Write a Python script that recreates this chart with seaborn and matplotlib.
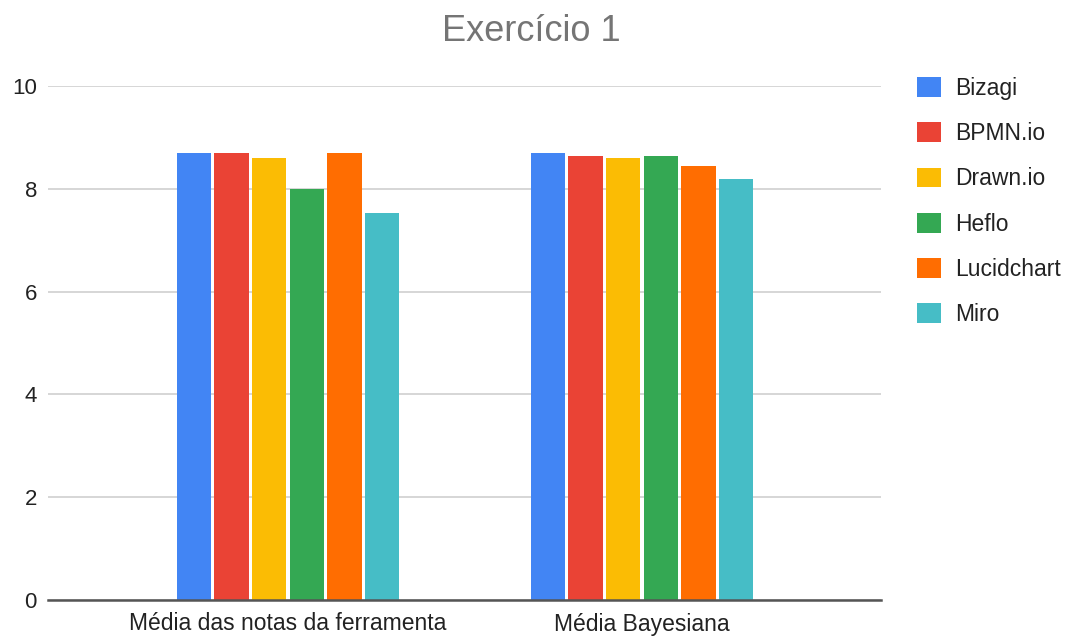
import matplotlib
matplotlib.use("Agg")
import matplotlib.pyplot as plt
import seaborn as sns
import pandas as pd

categories = ["Média das notas da ferramenta", "Média Bayesiana"]
tools = ["Bizagi", "BPMN.io", "Drawn.io", "Heflo", "Lucidchart", "Miro"]
media_notas = [8.70, 8.70, 8.60, 8.00, 8.70, 7.52]
media_bayesiana = [8.70, 8.64, 8.60, 8.64, 8.45, 8.19]
colors = ["#4285F4", "#EA4335", "#FBBC04", "#34A853", "#FF6D01", "#46BDC6"]
yticks = [0, 2, 4, 6, 8, 10]

df = pd.DataFrame({
    "categoria": [categories[0]] * len(tools) + [categories[1]] * len(tools),
    "ferramenta": tools + tools,
    "valor": media_notas + media_bayesiana,
})

sns.set_theme(style="white")
plt.rcParams["font.family"] = ["Liberation Sans", "DejaVu Sans"]

fig = plt.figure(figsize=(10.7, 6.39), dpi=100)
W, H = 1070, 639
ax = fig.add_axes([48 / W, 1 - 600 / H, (881 - 48) / W, (600 - 86) / H])

sns.barplot(data=df, x="categoria", y="valor", hue="ferramenta",
            order=categories, hue_order=tools, palette=colors,
            width=0.639, gap=0.09, ax=ax, legend=False,
            saturation=1, edgecolor="none", linewidth=0)

ax.set_xlim(-0.678, 1.675)
ax.set_ylim(0, 10)
ax.set_yticks(yticks)
ax.set_yticklabels([str(t) for t in yticks])
ax.yaxis.grid(True, color="#cccccc", linewidth=1.1)
ax.set_axisbelow(True)
for s in ["top", "right", "left"]:
    ax.spines[s].set_visible(False)
ax.spines["bottom"].set_color("#555555")
ax.spines["bottom"].set_linewidth(1.8)
ax.spines["bottom"].set_zorder(5)
ax.tick_params(axis="y", length=0, pad=8, labelsize=16, labelcolor="#222222")
ax.tick_params(axis="x", length=0, pad=9, labelsize=16.5, labelcolor="#222222")
ax.set_xlabel("")
ax.set_ylabel("")

fig.suptitle("Exercício 1", x=0.497, y=0.978, fontsize=26, color="#757575",
             va="top")

handles = [plt.Rectangle((0, 0), 1, 1, facecolor=c, edgecolor="none") for c in colors]
leg = fig.legend(handles, tools, loc="upper left",
                 bbox_to_anchor=(917 / W, 1 - 77 / H),
                 frameon=False, fontsize=16.5, handlelength=1.05,
                 handleheight=0.95, handletextpad=0.6, labelspacing=0.97,
                 borderpad=0, borderaxespad=0)
for t in leg.get_texts():
    t.set_color("#222222")

fig.savefig("out.png", dpi=100)
